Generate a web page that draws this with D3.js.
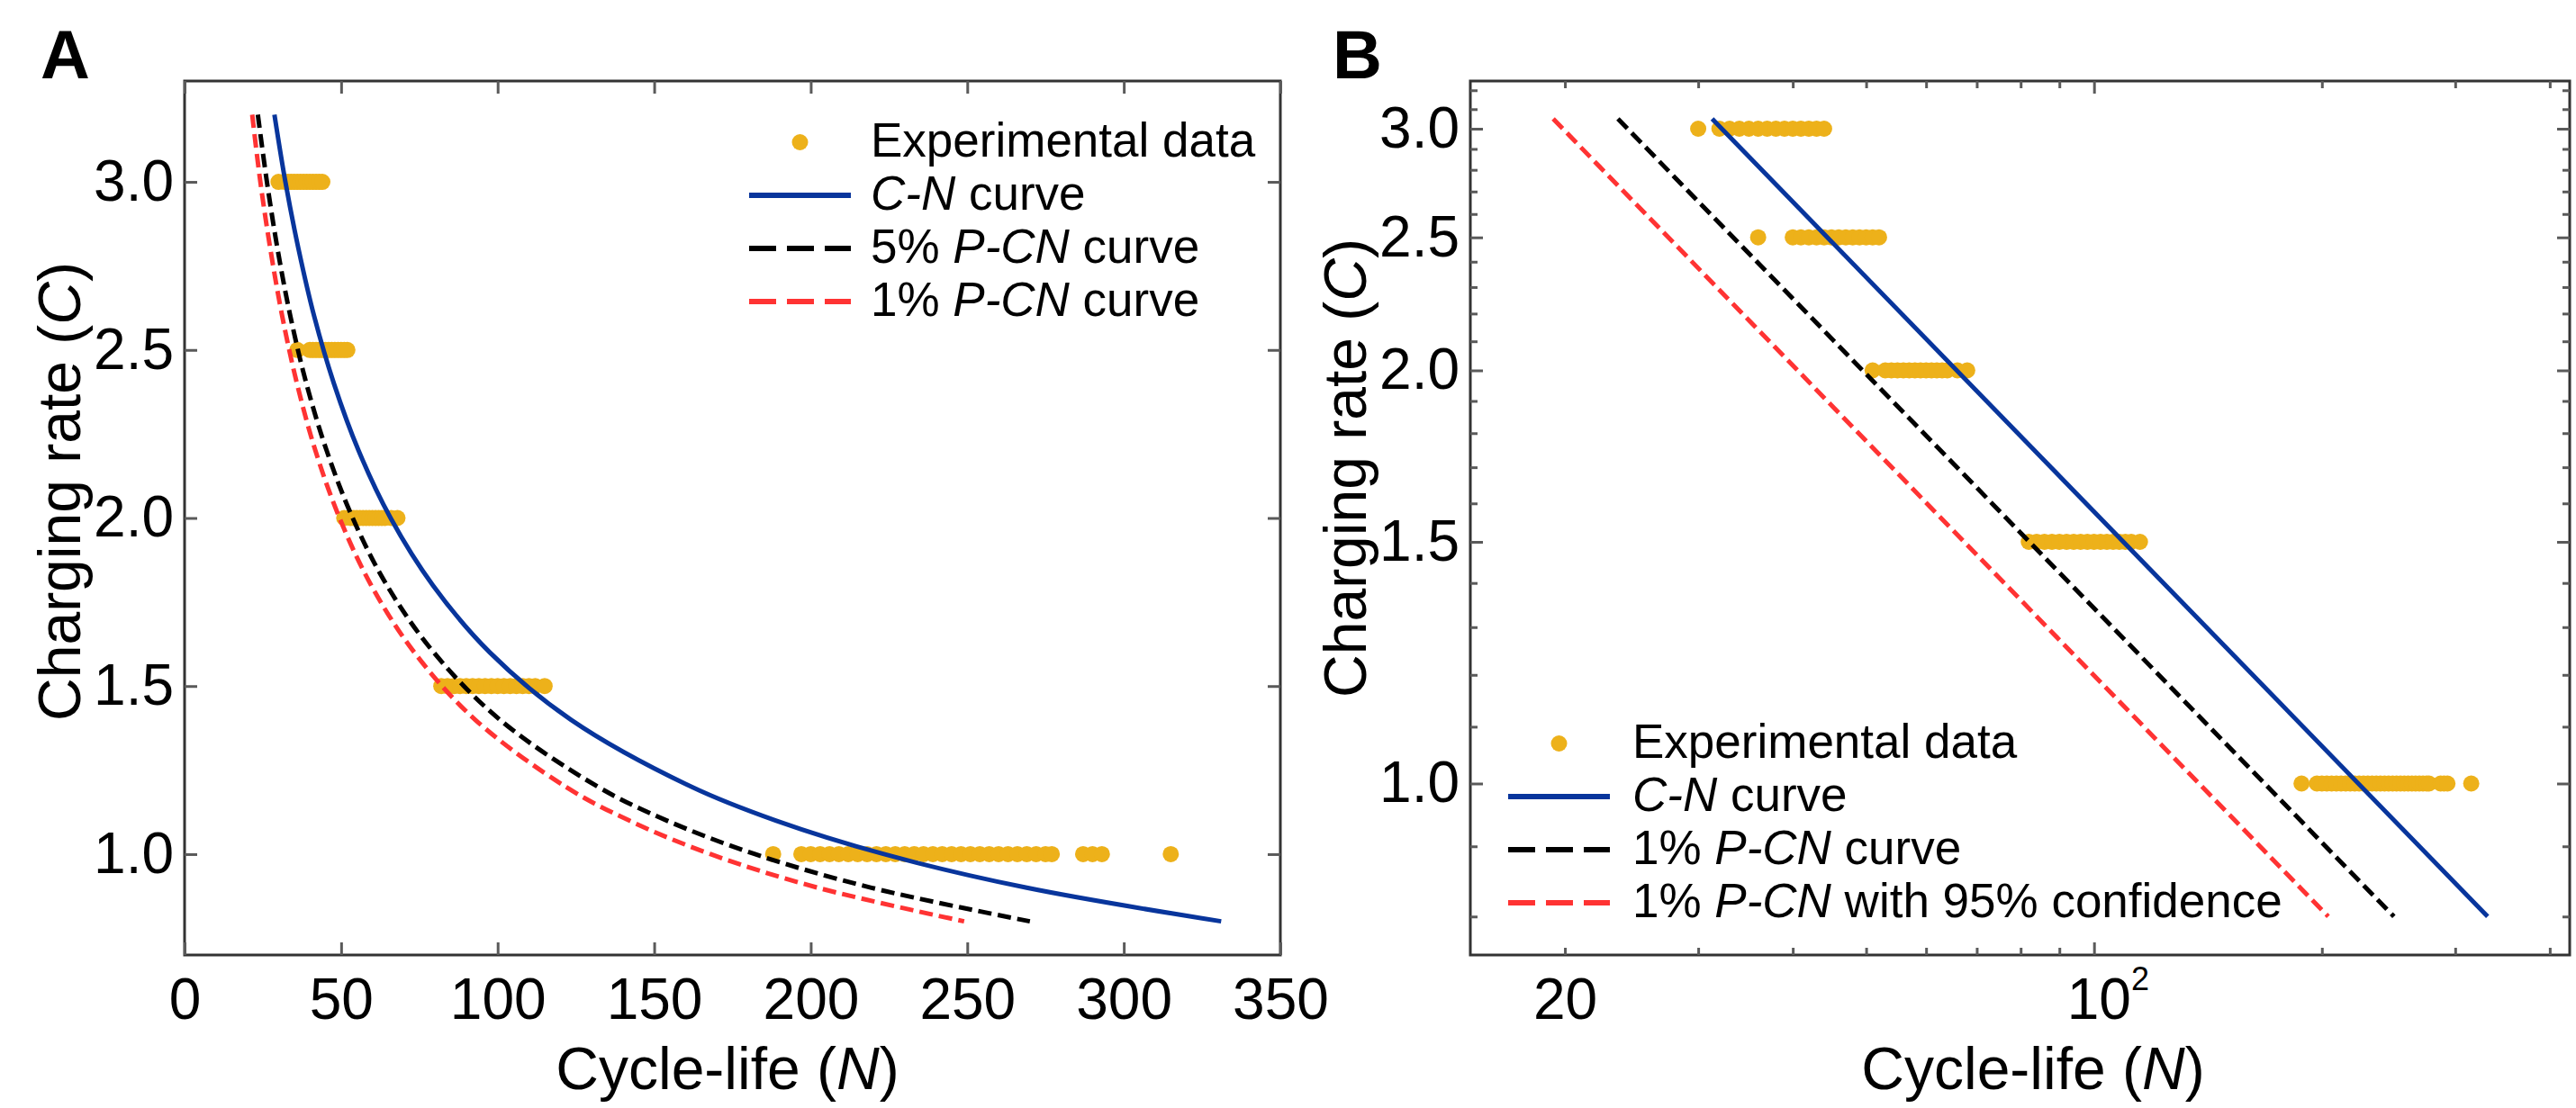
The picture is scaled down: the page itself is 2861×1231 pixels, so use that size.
<!DOCTYPE html>
<html>
<head>
<meta charset="utf-8">
<script src="https://cdn.jsdelivr.net/npm/d3@7"></script>
<style>
  html, body { margin: 0; padding: 0; background: #fff; }
  svg { display: block; }
</style>
</head>
<body>
<svg id="chart" width="2861" height="1231"></svg>
<script>
// ------------------------- DATA -------------------------
// Charging rate levels (C) of the experimental cells
const chargingRates = [3.0, 2.5, 2.0, 1.5, 1.0];
// Cycle-life (N) observations at each charging rate
const cyclesAt3p0C = [30, 32, 33, 34, 35, 36, 37, 38, 39, 40, 41, 42, 43, 44];
const cyclesAt2p5C = [36, 40, 41, 42, 43, 44, 45, 46, 47, 48, 49, 50, 51, 52];
const cyclesAt2p0C = [51, 53, 54, 55, 56, 57, 58, 59, 60, 61, 62, 63, 64, 66, 68];
const cyclesAt1p5C = [82, 84, 86, 88, 90, 92, 94, 96, 98, 100, 102, 104, 106, 108, 110, 112, 115];
const cyclesAt1p0C = [188, 197, 200, 203, 206, 209, 212, 215, 218, 221, 224, 227, 230, 233, 236,
                      239, 242, 245, 248, 251, 254, 257, 260, 263, 266, 269, 272, 275, 277,
                      287, 290, 293, 315];
const cyclesByRate = [cyclesAt3p0C, cyclesAt2p5C, cyclesAt2p0C, cyclesAt1p5C, cyclesAt1p0C];

// Panel A curves: charging rate vs cycle-life
const curveRatesA = [3.2, 3.0, 2.8, 2.6, 2.4, 2.2, 2.0, 1.8, 1.6, 1.4, 1.2, 1.1, 1.0, 0.9, 0.8];
const cnCurveA    = [28.7, 32.2, 36.4, 41.4, 47.7, 55.6, 65.8, 79.3, 97.5, 123.4, 162.0, 188.8, 223.4, 269.0, 331.1];
const pcn5CurveA  = [23.4, 26.3, 29.7, 33.8, 38.9, 45.4, 53.7, 64.6, 79.6, 100.7, 132.1, 154.0, 182.2, 219.4, 270.0];
const pcn1CurveA  = [21.6, 24.2, 27.4, 31.2, 35.9, 41.8, 49.5, 59.6, 73.4, 92.8, 121.8, 142.0, 168.0, 202.3, 249.0];

// Panel B (log-log) straight lines: end points
const lineRatesB      = [3.05, 0.8];
const cnLineB         = [31.3, 331.1];
const pcn1LineB       = [23.5, 249.0];
const pcn1Conf95LineB = [19.3, 203.9];

// Axis domains and ticks
const xDomainA = [0, 350];
const yDomainA = [0.7, 3.3];
const xTicksA = [0, 50, 100, 150, 200, 250, 300, 350];
const yTicksA = [1.0, 1.5, 2.0, 2.5, 3.0];

const xDomainB = [15, 425];
const yDomainB = [0.75, 3.25];
const xMajorTicksB = [100];
const xMinorTicksB = [20, 30, 40, 50, 60, 70, 80, 90, 200, 300, 400];
const xLabelTicksB = [20];
const yMajorTicksB = [1.0, 1.5, 2.0, 2.5, 3.0];
const yMinorTicksB = [0.8, 0.9, 1.1, 1.2, 1.3, 1.4, 1.6, 1.7, 1.8, 1.9, 2.1, 2.2, 2.3, 2.4,
                      2.6, 2.7, 2.8, 2.9, 3.1, 3.2];

// Legend texts (segments: [text, italic])
const legendA = [
  { key: "exp",  parts: [["Experimental data", false]] },
  { key: "cn",   parts: [["C-N", true], [" curve", false]] },
  { key: "pcn5", parts: [["5% ", false], ["P-CN", true], [" curve", false]] },
  { key: "pcn1", parts: [["1% ", false], ["P-CN", true], [" curve", false]] }
];
const legendB = [
  { key: "exp",  parts: [["Experimental data", false]] },
  { key: "cn",   parts: [["C-N", true], [" curve", false]] },
  { key: "pcn5", parts: [["1% ", false], ["P-CN", true], [" curve", false]] },
  { key: "pcn1", parts: [["1% ", false], ["P-CN", true], [" with 95% confidence", false]] }
];

// ------------------------- STYLE / LAYOUT -------------------------
const FONT = '"Liberation Sans", Arial, Helvetica, sans-serif';
const COLORS = { exp: "#edb11a", cn: "#08359c", pcn5: "#000000", pcn1: "#ff3333" };
const DASH = { cn: null, pcn5: "15,7", pcn1: "15,7" };
const LEG_DASH = { cn: null, pcn5: "30,12", pcn1: "30,12" };
const LINE_W = 5;
const DOT_R = 9;
const TICK_COLOR = "#5a5a5a";
const FRAME_COLOR = "#333333";
const TICK_FS = 64, TITLE_FS = 66, LEG_FS = 53, PANEL_FS = 76;

const panelA = { left: 205, right: 1422, top: 90, bottom: 1061 };
const panelB = { left: 1633, right: 2854, top: 90, bottom: 1061 };

const svg = d3.select("#chart");

const xA = d3.scaleLinear().domain(xDomainA).range([panelA.left, panelA.right]);
const yA = d3.scaleLinear().domain(yDomainA).range([panelA.bottom, panelA.top]);
const xB = d3.scaleLog().domain(xDomainB).range([panelB.left, panelB.right]);
const yB = d3.scaleLog().domain(yDomainB).range([panelB.bottom, panelB.top]);

const expPoints = chargingRates.flatMap((c, i) => cyclesByRate[i].map(n => ({ c, n })));

function styleAxis(g, fs) {
  g.select(".domain").remove();
  g.attr("font-family", null).attr("font-size", null);
  g.selectAll(".tick line").attr("stroke", TICK_COLOR).attr("stroke-width", 3);
  g.selectAll(".tick text").attr("fill", "#000")
    .style("font-family", FONT).style("font-size", fs + "px");
}

function addRichText(parent, x, y, parts, fs, anchor) {
  const t = parent.append("text").attr("x", x).attr("y", y)
    .attr("text-anchor", anchor || "start")
    .style("font-family", FONT).style("font-size", fs + "px").attr("fill", "#000");
  parts.forEach(([s, it]) => t.append("tspan").text(s).style("font-style", it ? "italic" : "normal"));
  return t;
}

function drawPanel(cfg) {
  const { x, y, box, curves, lineGen } = cfg;
  const g = svg.append("g");

  // experimental points
  g.append("g").selectAll("circle").data(expPoints).join("circle")
    .attr("cx", d => x(d.n)).attr("cy", d => y(d.c)).attr("r", DOT_R)
    .attr("fill", COLORS.exp);

  // curves
  curves.forEach(cv => {
    const pts = cv.rates.map((c, i) => ({ c, n: cv.cycles[i] }));
    g.append("path").datum(pts)
      .attr("d", lineGen)
      .attr("fill", "none")
      .attr("stroke", COLORS[cv.key])
      .attr("stroke-width", LINE_W)
      .attr("stroke-dasharray", DASH[cv.key]);
  });

  // frame
  g.append("rect")
    .attr("x", box.left).attr("y", box.top)
    .attr("width", box.right - box.left).attr("height", box.bottom - box.top)
    .attr("fill", "none").attr("stroke", FRAME_COLOR).attr("stroke-width", 3);
  return g;
}

// ------------------------- PANEL A -------------------------
const lineA = d3.line().x(d => xA(d.n)).y(d => yA(d.c)).curve(d3.curveCatmullRom.alpha(0.5));
const gA = drawPanel({
  x: xA, y: yA, box: panelA, lineGen: lineA,
  curves: [
    { key: "pcn1", rates: curveRatesA, cycles: pcn1CurveA },
    { key: "pcn5", rates: curveRatesA, cycles: pcn5CurveA },
    { key: "cn",   rates: curveRatesA, cycles: cnCurveA }
  ]
});

gA.append("g").attr("transform", `translate(0,${panelA.bottom})`)
  .call(d3.axisBottom(xA).tickValues(xTicksA).tickSize(-14).tickPadding(26).tickFormat(d3.format("d")))
  .call(g => styleAxis(g, TICK_FS));
gA.append("g").attr("transform", `translate(0,${panelA.top})`)
  .call(d3.axisTop(xA).tickValues(xTicksA).tickSize(-14).tickFormat(""))
  .call(g => styleAxis(g, TICK_FS));
gA.append("g").attr("transform", `translate(${panelA.left},0)`)
  .call(d3.axisLeft(yA).tickValues(yTicksA).tickSize(-14).tickPadding(12).tickFormat(d3.format(".1f")))
  .call(g => styleAxis(g, TICK_FS));
gA.append("g").attr("transform", `translate(${panelA.right},0)`)
  .call(d3.axisRight(yA).tickValues(yTicksA).tickSize(-14).tickFormat(""))
  .call(g => styleAxis(g, TICK_FS));

// titles A
addRichText(svg, 808, 1210, [["Cycle-life (", false], ["N", true], [")", false]], TITLE_FS, "middle");
addRichText(svg.append("g").attr("transform", "translate(89,546) rotate(-90)"), 0, 0,
  [["Charging rate (", false], ["C", true], [")", false]], TITLE_FS, "middle");
svg.append("text").attr("x", 45).attr("y", 87).text("A")
  .style("font-family", FONT).style("font-size", PANEL_FS + "px").style("font-weight", "bold");

// legend A
function drawLegend(items, lx0, lx1, tx, rowY0, rowStep) {
  const lg = svg.append("g");
  items.forEach((it, i) => {
    const cy = rowY0 + i * rowStep;
    if (it.key === "exp") {
      lg.append("circle").attr("cx", (lx0 + lx1) / 2).attr("cy", cy).attr("r", DOT_R).attr("fill", COLORS.exp);
    } else {
      lg.append("line").attr("x1", lx0).attr("x2", lx1).attr("y1", cy).attr("y2", cy)
        .attr("stroke", COLORS[it.key]).attr("stroke-width", LINE_W + 1)
        .attr("stroke-dasharray", LEG_DASH[it.key]);
    }
    addRichText(lg, tx, cy + 16, it.parts, LEG_FS, "start");
  });
}
drawLegend(legendA, 832, 945, 967, 158, 59);

// ------------------------- PANEL B -------------------------
const lineB = d3.line().x(d => xB(d.n)).y(d => yB(d.c));
const gB = drawPanel({
  x: xB, y: yB, box: panelB, lineGen: lineB,
  curves: [
    { key: "pcn1", rates: lineRatesB, cycles: pcn1Conf95LineB },
    { key: "pcn5", rates: lineRatesB, cycles: pcn1LineB },
    { key: "cn",   rates: lineRatesB, cycles: cnLineB }
  ]
});

// x ticks (bottom & top)
[[panelB.bottom, d3.axisBottom], [panelB.top, d3.axisTop]].forEach(([yy, ax]) => {
  gB.append("g").attr("transform", `translate(0,${yy})`)
    .call(ax(xB).tickValues(xMinorTicksB).tickSize(-8).tickFormat(""))
    .call(g => styleAxis(g, TICK_FS));
  gB.append("g").attr("transform", `translate(0,${yy})`)
    .call(ax(xB).tickValues(xMajorTicksB).tickSize(-14).tickFormat(""))
    .call(g => styleAxis(g, TICK_FS));
});
// y ticks (left & right)
[[panelB.left, d3.axisLeft], [panelB.right, d3.axisRight]].forEach(([xx, ax], k) => {
  gB.append("g").attr("transform", `translate(${xx},0)`)
    .call(ax(yB).tickValues(yMinorTicksB).tickSize(-8).tickFormat(""))
    .call(g => styleAxis(g, TICK_FS));
  gB.append("g").attr("transform", `translate(${xx},0)`)
    .call(ax(yB).tickValues(yMajorTicksB).tickSize(-14).tickPadding(12)
      .tickFormat(k === 0 ? d3.format(".1f") : ""))
    .call(g => styleAxis(g, TICK_FS));
});
// x tick labels: "20" and 10^2
gB.append("g").attr("transform", `translate(0,${panelB.bottom})`)
  .call(d3.axisBottom(xB).tickValues(xLabelTicksB).tickSize(0).tickPadding(26).tickFormat(d3.format("d")))
  .call(g => styleAxis(g, TICK_FS));
{
  const t = gB.append("text").attr("x", xB(xMajorTicksB[0]) - 30).attr("y", 1132)
    .style("font-family", FONT).style("font-size", TICK_FS + "px").attr("fill", "#000");
  t.append("tspan").text("10");
  t.append("tspan").text("2").attr("dy", -32).style("font-size", "36px");
}

// titles B
addRichText(svg, 2258, 1210, [["Cycle-life (", false], ["N", true], [")", false]], TITLE_FS, "middle");
addRichText(svg.append("g").attr("transform", "translate(1517,520) rotate(-90)"), 0, 0,
  [["Charging rate (", false], ["C", true], [")", false]], TITLE_FS, "middle");
svg.append("text").attr("x", 1480).attr("y", 87).text("B")
  .style("font-family", FONT).style("font-size", PANEL_FS + "px").style("font-weight", "bold");

drawLegend(legendB, 1675, 1788, 1813, 826, 59);
</script>
</body>
</html>
